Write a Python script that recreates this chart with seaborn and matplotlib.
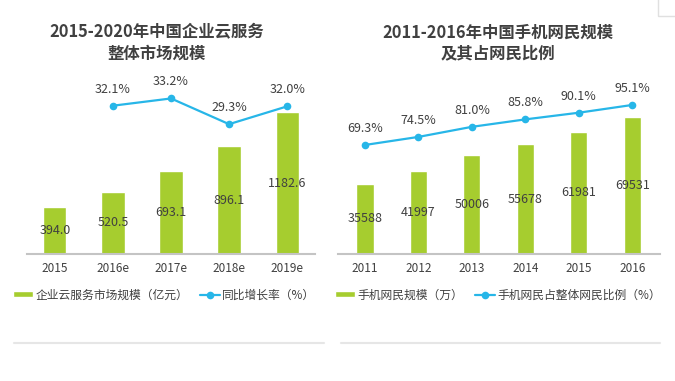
import matplotlib
matplotlib.use('Agg')		#No display in the sandbox
import seaborn as sns
import matplotlib.pyplot as plt
from matplotlib.lines import Line2D
from matplotlib.patches import Rectangle

#Chart data
cloudYears = ["2015", "2016e", "2017e", "2018e", "2019e"]
cloudMarket = [394.0, 520.5, 693.1, 896.1, 1182.6]										#企业云服务市场规模（亿元）
growthYears = ["2016e", "2017e", "2018e", "2019e"]
growthRate = [32.1, 33.2, 29.3, 32.0]													#同比增长率（%）

mobileYears = ["2011", "2012", "2013", "2014", "2015", "2016"]
mobileUsers = [35588, 41997, 50006, 55678, 61981, 69531]								#手机网民规模（万）
mobileShare = [69.3, 74.5, 81.0, 85.8, 90.1, 95.1]										#手机网民占整体网民比例（%）

leftTitle = "2015-2020年中国企业云服务\n整体市场规模"
rightTitle = "2011-2016年中国手机网民规模\n及其占网民比例"
leftLegend = ["企业云服务市场规模（亿元）", "同比增长率（%）"]
rightLegend = ["手机网民规模（万）", "手机网民占整体网民比例（%）"]

#Style
barColour = "#a6cd2f"
lineColour = "#27b6e8"
textColour = "#404040"
axisColour = "#c4c4c4"

sns.set_theme(style="white")
plt.rcParams['font.family'] = ['Noto Sans CJK SC', 'DejaVu Sans']						#CJK font first, DejaVu as fallback

fig = plt.figure(figsize=(6.75, 3.81), dpi=100)
fig.patch.set_facecolor("white")

def drawPanel(rect, xLim, cats, barVals, barFmt, barWidth, barTop, lineCats, lineVals, lineLim, title, titleX, legendLabels, legendX):
	ax = fig.add_axes(rect)
	sns.barplot(ax=ax, x=cats, y=barVals, color=barColour, width=barWidth, saturation=1)
	ax.set_ylim(0, barTop)
	ax.set_xlim(*xLim)
	for i, v in enumerate(barVals):
		ax.annotate(barFmt.format(v), (i, v / 2.0), ha="center", va="center", fontsize=9, color=textColour)	#Value in the middle of each bar

	ax2 = ax.twinx()
	linePos = [cats.index(c) for c in lineCats]												#Line points sit on the bar categories
	sns.lineplot(ax=ax2, x=linePos, y=lineVals, color=lineColour, linewidth=1.6,
		marker="o", markersize=5.5, markeredgewidth=0, sort=False)
	ax2.set_ylim(*lineLim)
	for p, v in zip(linePos, lineVals):
		ax2.annotate("{:.1f}%".format(v), (p, v), xytext=(0, 12), textcoords="offset points",
			ha="center", va="center", fontsize=9, color=textColour)

	for a in (ax, ax2):
		a.set_yticks([])
		a.set_ylabel("")
		for s in ["top", "left", "right", "bottom"]:
			a.spines[s].set_visible(False)
		a.patch.set_alpha(0)
	ax.spines["bottom"].set_visible(True)
	ax.spines["bottom"].set_color(axisColour)
	ax.spines["bottom"].set_linewidth(1.5)
	ax.tick_params(axis="x", length=0, pad=6, labelsize=8.5, labelcolor=textColour)

	fig.text(titleX, 1 - 43 / 381.0, title, ha="center", va="center", fontsize=11.8,
		fontweight="bold", color=textColour, linespacing=1.2)

	handles = [ax.containers[0], ax2.lines[0]]
	ax.legend(handles, legendLabels, loc="center left", bbox_to_anchor=(legendX, (381 - 295) / 381.0),
		bbox_transform=fig.transFigure, ncol=2, frameon=False, fontsize=8.5, handlelength=1.7,
		handleheight=0.45, handletextpad=0.2, columnspacing=1.0, borderaxespad=0, borderpad=0,
		labelcolor=textColour)

#Left panel: axes from x 27 to 315 px, baseline at y 254 px, top at y 80 px
drawPanel([27 / 675.0, 127 / 381.0, 288 / 675.0, 174 / 381.0], (-0.48, 4.48), cloudYears, cloudMarket, "{:.1f}", 0.4, 1450,
	growthYears, growthRate, (9.6, 36.0), leftTitle, 157 / 675.0, leftLegend, 13 / 675.0)

#Right panel: axes from x 338 to 660 px
drawPanel([338 / 675.0, 127 / 381.0, 322 / 675.0, 174 / 381.0], (-0.506, 5.52), mobileYears, mobileUsers, "{:d}", 0.32, 88300,
	mobileYears, mobileShare, (-1.03, 111.2), rightTitle, 498 / 675.0, rightLegend, 335 / 675.0)

#Faint separators at the bottom and the small frame in the top right corner
for x0, x1 in [(14, 324), (341, 660)]:
	fig.add_artist(Line2D([x0 / 675.0, x1 / 675.0], [(381 - 343) / 381.0] * 2, color="#e6e6e6", linewidth=1.5))
fig.add_artist(Rectangle((658 / 675.0, (381 - 16) / 381.0), 30 / 675.0, 30 / 381.0, fill=False,
	edgecolor="#e0e0e0", linewidth=1.0))

plt.savefig("out.png", dpi=100, facecolor="white")
plt.close("all")
